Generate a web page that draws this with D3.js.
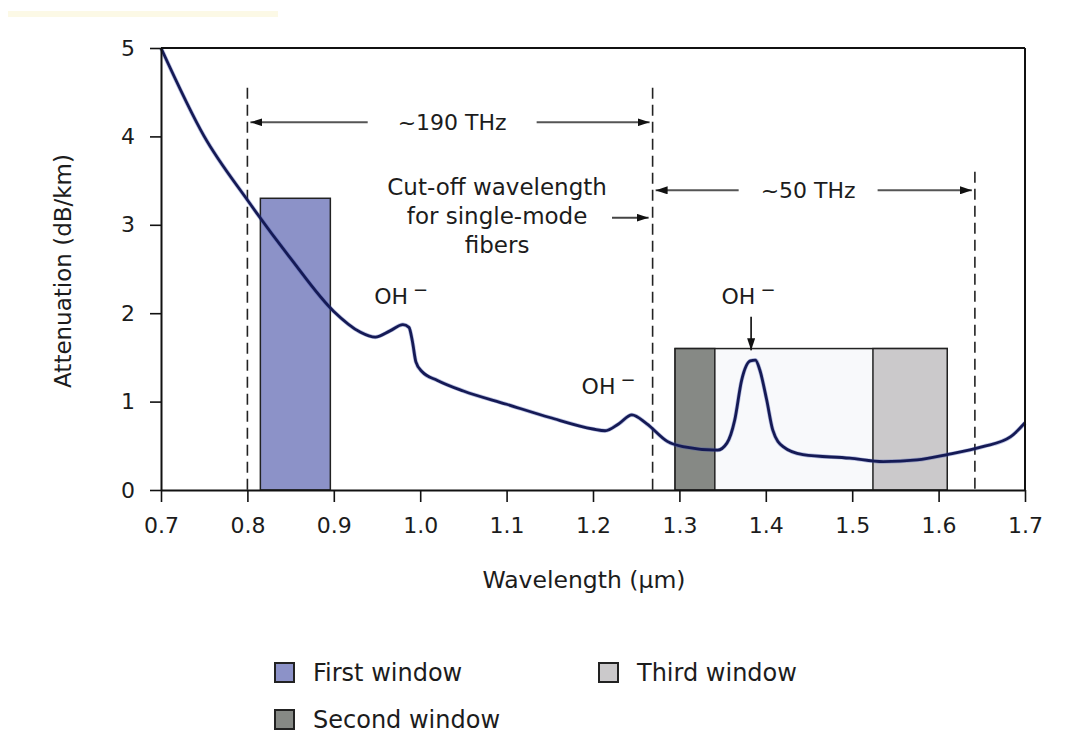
<!DOCTYPE html>
<html>
<head>
<meta charset="utf-8">
<script src="https://cdn.jsdelivr.net/npm/d3@7/dist/d3.min.js"></script>
<style>
  html, body { margin: 0; padding: 0; background: #fff; }
  svg { display: block; }
  text { font-family: "DejaVu Sans", sans-serif; fill: #1c1c1c; }
</style>
</head>
<body>
<svg id="chart" width="1091" height="746"></svg>
<script>
// Fibre attenuation spectrum (dB/km) versus wavelength (µm)
const wavelength = [0.70, 0.75, 0.80, 0.85, 0.90, 0.93, 0.948, 0.965,
  0.980, 0.987, 0.991, 0.995, 1.002, 1.02, 1.05, 1.10, 1.15, 1.20, 1.214, 1.230, 1.245, 1.262,
  1.286, 1.304, 1.344, 1.355, 1.364, 1.372, 1.382, 1.388, 1.393, 1.401, 1.408, 1.420, 1.443,
  1.497, 1.536, 1.575, 1.610, 1.651, 1.683, 1.700];
const attenuation = [5.00, 4.00, 3.28, 2.62, 2.02, 1.79, 1.73, 1.80,
  1.87, 1.84, 1.68, 1.45, 1.34, 1.24, 1.12, 0.97, 0.82, 0.69, 0.67, 0.75, 0.85, 0.75,
  0.55, 0.49, 0.45, 0.53, 0.79, 1.24, 1.46, 1.47, 1.36, 1.02, 0.68, 0.49, 0.40,
  0.36, 0.32, 0.34, 0.40, 0.49, 0.60, 0.76];

// Transmission windows
const windowNames = ["First window", "Second window", "Third window"];
const windowStart = [0.815, 1.295, 1.524];
const windowEnd = [0.896, 1.341, 1.610];
const windowTop = [3.3, 1.6, 1.6];
const bandStart = 1.295, bandEnd = 1.610, bandTop = 1.6;

// Reference wavelengths (dashed verticals)
const markerWavelengths = [0.80, 1.269, 1.642];
const markerTops = [4.55, 4.55, 3.6];

// Frequency spans between markers
const spanLabels = ["~190 THz", "~50 THz"];
const spanFrom = [0.80, 1.269];
const spanTo = [1.269, 1.642];
const spanLevel = [4.16, 3.39];
const spanCenter = [1.037, 1.449];

// OH⁻ absorption peaks
const ohLabelX = [0.978, 1.218, 1.380];
const ohLabelY = [2.10, 1.09, 2.10];

const xTicks = [0.7, 0.8, 0.9, 1.0, 1.1, 1.2, 1.3, 1.4, 1.5, 1.6, 1.7];
const yTicks = [0, 1, 2, 3, 4, 5];

const svg = d3.select("#chart");
const margin = { left: 161, top: 48, right: 66, bottom: 256 };
const W = 1091 - margin.left - margin.right;   // 864
const H = 746 - margin.top - margin.bottom;    // 442

const x = d3.scaleLinear().domain([0.7, 1.7]).range([0, W]);
const y = d3.scaleLinear().domain([0, 5]).range([H, 0]);

// faint band at the top-left of the sheet
svg.append("rect").attr("x", 8).attr("y", 11).attr("width", 270).attr("height", 6)
  .attr("fill", "#fcf9e6");

const g = svg.append("g").attr("transform", `translate(${margin.left},${margin.top})`);

const winFill = ["#8c92c8", "#868985", "#cbc9cb"];

// band outline spanning the second and third windows
g.append("rect")
  .attr("x", x(bandStart)).attr("y", y(bandTop))
  .attr("width", x(bandEnd) - x(bandStart)).attr("height", y(0) - y(bandTop))
  .attr("fill", "#f8f9fb").attr("stroke", "#222").attr("stroke-width", 1.5);

g.selectAll("rect.win").data(windowNames).join("rect")
  .attr("class", "win")
  .attr("x", (d, i) => x(windowStart[i]))
  .attr("y", (d, i) => y(windowTop[i]))
  .attr("width", (d, i) => x(windowEnd[i]) - x(windowStart[i]))
  .attr("height", (d, i) => y(0) - y(windowTop[i]))
  .attr("fill", (d, i) => winFill[i])
  .attr("stroke", "#222").attr("stroke-width", 1.5);

// dashed verticals
g.selectAll("line.marker").data(markerWavelengths).join("line")
  .attr("class", "marker")
  .attr("x1", d => x(d)).attr("x2", d => x(d))
  .attr("y1", (d, i) => y(markerTops[i])).attr("y2", y(0))
  .attr("stroke", "#222").attr("stroke-width", 1.6)
  .attr("stroke-dasharray", "11,6");

// arrowhead markers
const defs = svg.append("defs");
defs.append("marker").attr("id", "head")
  .attr("viewBox", "0 0 12 8").attr("refX", 12).attr("refY", 4)
  .attr("markerWidth", 12).attr("markerHeight", 8).attr("markerUnits", "userSpaceOnUse")
  .attr("orient", "auto")
  .append("path").attr("d", "M0,0 L12,4 L0,8 Z").attr("fill", "#111");

// attenuation curve
const line = d3.line()
  .x(d => x(d[0])).y(d => y(d[1]))
  .curve(d3.curveMonotoneX);
const pts = wavelength.map((w, i) => [w, attenuation[i]]);
g.append("path").datum(pts)
  .attr("d", line)
  .attr("fill", "none").attr("stroke", "#3a4db0").attr("stroke-width", 4.2).attr("opacity", 0.35);
g.append("path").datum(pts)
  .attr("d", line)
  .attr("fill", "none").attr("stroke", "#151a55").attr("stroke-width", 2.8);

// axes
const yAxis = d3.axisLeft(y).tickValues(yTicks).tickFormat(d3.format("d"))
  .tickSize(11).tickSizeOuter(0).tickPadding(15);
const xAxis = d3.axisBottom(x).tickValues(xTicks).tickFormat(d3.format(".1f"))
  .tickSize(12).tickSizeOuter(0).tickPadding(15);

const ya = g.append("g").call(yAxis);
const xa = g.append("g").attr("transform", `translate(0,${H})`).call(xAxis);
[ya, xa].forEach(a => {
  a.selectAll("path.domain").attr("stroke", "#111").attr("stroke-width", 2);
  a.selectAll(".tick line").attr("stroke", "#111").attr("stroke-width", 1.6);
  a.selectAll(".tick text").attr("font-size", 22).attr("fill", "#1c1c1c")
    .attr("font-family", "DejaVu Sans, sans-serif");
});

// top and right frame
g.append("line").attr("x1", 0).attr("x2", W).attr("y1", 0).attr("y2", 0)
  .attr("stroke", "#111").attr("stroke-width", 2);
g.append("line").attr("x1", W).attr("x2", W).attr("y1", 0).attr("y2", H)
  .attr("stroke", "#111").attr("stroke-width", 2);

// axis titles
svg.append("text").attr("x", margin.left + x(1.2) - 9).attr("y", 588)
  .attr("text-anchor", "middle").attr("font-size", 23.5).text("Wavelength (µm)");
svg.append("text").attr("transform", "translate(71,271) rotate(-90)")
  .attr("text-anchor", "middle").attr("font-size", 23).text("Attenuation (dB/km)");

// frequency spans
spanLabels.forEach((lab, i) => {
  const yy = y(spanLevel[i]);
  const t = g.append("text").attr("x", x(spanCenter[i])).attr("y", yy + 8)
    .attr("text-anchor", "middle").attr("font-size", 22).text(lab);
  const tw = t.node().getComputedTextLength();
  const gap = i === 0 ? 30 : 22;
  const xl = x(spanCenter[i]) - tw / 2 - gap;
  const xr = x(spanCenter[i]) + tw / 2 + gap;
  g.append("line").attr("x1", xl).attr("x2", x(spanFrom[i]) + 3).attr("y1", yy).attr("y2", yy)
    .attr("stroke", "#555").attr("stroke-width", 2).attr("marker-end", "url(#head)");
  g.append("line").attr("x1", xr).attr("x2", x(spanTo[i]) - 3).attr("y1", yy).attr("y2", yy)
    .attr("stroke", "#555").attr("stroke-width", 2).attr("marker-end", "url(#head)");
});

// cut-off note
const cut = ["Cut-off wavelength", "for single-mode", "fibers"];
g.selectAll("text.cut").data(cut).join("text").attr("class", "cut")
  .attr("x", x(1.089)).attr("y", (d, i) => 147 + i * 29)
  .attr("text-anchor", "middle").attr("font-size", 23).text(d => d);
g.append("line").attr("x1", x(1.222)).attr("x2", x(1.269) - 4)
  .attr("y1", y(3.08)).attr("y2", y(3.08))
  .attr("stroke", "#444").attr("stroke-width", 2).attr("marker-end", "url(#head)");

// OH⁻ labels
ohLabelX.forEach((w, i) => {
  const t = g.append("text").attr("x", x(w)).attr("y", y(ohLabelY[i]))
    .attr("text-anchor", "middle").attr("font-size", 22);
  t.append("tspan").text("OH");
  t.append("tspan").attr("dx", 5).attr("dy", -8).attr("font-size", 18).text("−");
});
g.append("line").attr("x1", x(1.383)).attr("x2", x(1.383))
  .attr("y1", y(1.96)).attr("y2", y(1.58))
  .attr("stroke", "#222").attr("stroke-width", 1.8).attr("marker-end", "url(#head)");

// legend
const legX = [275, 275, 599];
const legY = [663, 710, 663];
const leg = svg.append("g");
windowNames.forEach((n, i) => {
  leg.append("rect").attr("x", legX[i]).attr("y", legY[i]).attr("width", 19).attr("height", 19)
    .attr("fill", winFill[i]).attr("stroke", "#222").attr("stroke-width", 2);
  leg.append("text").attr("x", legX[i] + 38).attr("y", legY[i] + 18)
    .attr("font-size", 24).text(n);
});
</script>
</body>
</html>
